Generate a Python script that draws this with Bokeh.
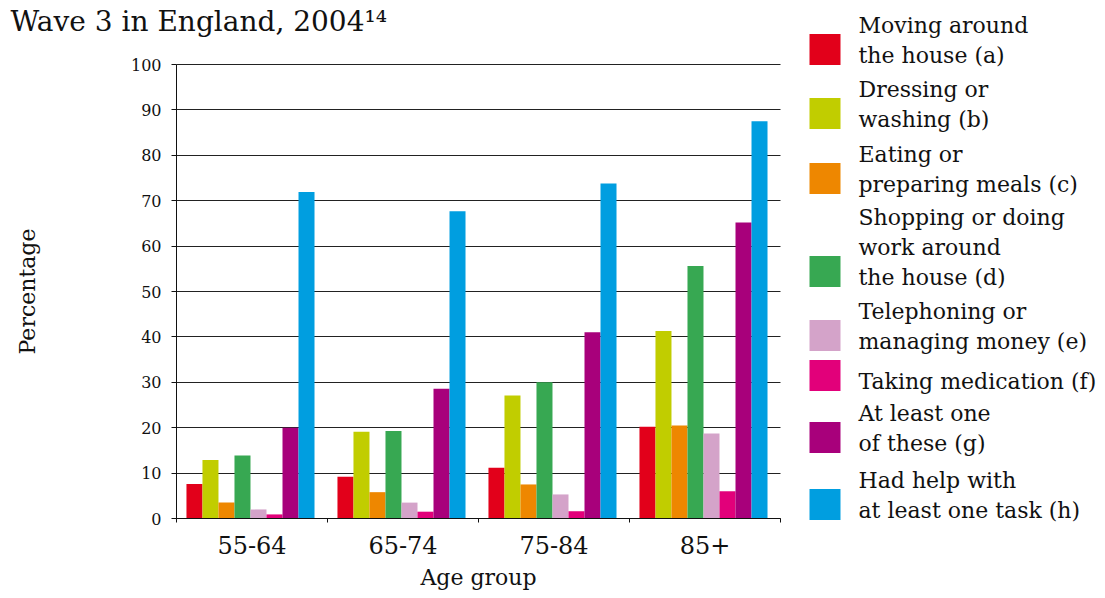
from bokeh.plotting import figure
from bokeh.models import ColumnDataSource, Range1d, FixedTicker
from bokeh.transform import dodge
from bokeh.embed import file_html
from bokeh.resources import INLINE
from bokeh.core.properties import value

# ---------------- data ----------------
groups = ["55-64", "65-74", "75-84", "85+"]
series_names = [
    "Moving around\nthe house (a)",
    "Dressing or\nwashing (b)",
    "Eating or\npreparing meals (c)",
    "Shopping or doing\nwork around\nthe house (d)",
    "Telephoning or\nmanaging money (e)",
    "Taking medication (f)",
    "At least one\nof these (g)",
    "Had help with\nat least one task (h)",
]
moving = [7.6, 9.2, 11.2, 20.2]
dressing = [12.9, 19.1, 27.1, 41.3]
eating = [3.5, 5.8, 7.5, 20.5]
shopping = [13.9, 19.3, 30.0, 55.6]
telephoning = [2.0, 3.5, 5.3, 18.7]
medication = [0.9, 1.5, 1.6, 6.0]
at_least_one = [20.0, 28.6, 41.0, 65.2]
had_help = [71.9, 67.7, 73.8, 87.5]
colors = ["#E2001A", "#C1CD00", "#EE8700", "#37A852",
          "#D4A3C9", "#E2007A", "#A8007B", "#009EE0"]
y_ticks = list(range(0, 101, 10))

title_text = "Wave 3 in England, 2004\u00b9\u2074"
x_label = "Age group"
y_label = "Percentage"

series_values = [moving, dressing, eating, shopping, telephoning,
                 medication, at_least_one, had_help]
keys = ["s%d" % i for i in range(len(series_values))]
centers = [i + 0.5 for i in range(len(groups))]
data = {"pos": centers, "group": groups}
for k, v in zip(keys, series_values):
    data[k] = v
src = ColumnDataSource(data)

SERIF = "DejaVu Serif"
INK = "#111111"

# ---------------- layout (canvas pixels) ----------------
W, H = 1100, 594
X0, X4 = 176, 780     # canvas x of the bar area's left / right edge
Y0, Y100 = 518, 64    # canvas y of the 0 % and 100 % lines
ng = len(groups)
px_per_x = (X4 - X0) / ng
px_per_y = (Y0 - Y100) / 100.0

p = figure(width=W, height=H,
           x_range=Range1d(-X0 / px_per_x, (W - X0) / px_per_x),
           y_range=Range1d(-(H - Y0) / px_per_y, Y0 / px_per_y),
           output_backend="svg", toolbar_location=None,
           min_border=0)
p.outline_line_color = None
p.background_fill_color = "white"
p.border_fill_color = "white"
p.title.visible = False

# pixel-space ranges for title and legend
p.extra_x_ranges = {"px": Range1d(0, W)}
p.extra_y_ranges = {"px": Range1d(H, 0)}

# grid lines limited to the bar area
gp = p.ygrid[0]
gp.ticker = FixedTicker(ticks=y_ticks)
gp.grid_line_color = "#222222"
gp.grid_line_width = 1
if "cross_bounds" in gp.properties():
    gp.cross_bounds = (0, ng)
else:
    gp.visible = False
    p.segment(x0=[0] * len(y_ticks), x1=[ng] * len(y_ticks),
              y0=y_ticks, y1=y_ticks, line_color="#222222", line_width=1)
p.xgrid.visible = False

# bars
n = len(series_values)
w = 0.106
for i, (k, c) in enumerate(zip(keys, colors)):
    p.vbar(x=dodge("pos", (i - (n - 1) / 2) * w - 0.01),
           top=k, width=w, source=src, fill_color=c, line_color=None)

# y axis (fixed at x = 0)
yax = p.yaxis[0]
yax.fixed_location = 0
yax.bounds = (0, 100)
yax.ticker = FixedTicker(ticks=y_ticks)
yax.major_tick_out = 5
yax.major_tick_in = 0
yax.minor_tick_line_color = None
yax.axis_line_color = INK
yax.major_tick_line_color = INK
yax.major_label_text_font = SERIF
yax.major_label_text_font_size = "16px"
yax.major_label_text_color = INK
yax.major_label_standoff = 10
yax.axis_label = y_label
yax.axis_label_text_font = SERIF
yax.axis_label_text_font_size = "22px"
yax.axis_label_text_font_style = "normal"
yax.axis_label_text_color = INK
yax.axis_label_standoff = 88

# x axis (fixed at y = 0): labels at group centres, ticks at group boundaries
xax = p.xaxis[0]
xax.fixed_location = 0
xax.bounds = (0, ng)
xax.ticker = FixedTicker(ticks=centers, minor_ticks=list(range(ng + 1)))
xax.major_label_overrides = {c: g for c, g in zip(centers, groups)}
xax.axis_line_color = INK
xax.major_tick_line_color = None
xax.minor_tick_line_color = INK
xax.minor_tick_out = 4
xax.minor_tick_in = 0
xax.major_tick_out = 4
xax.major_tick_in = 0
xax.major_label_text_font = SERIF
xax.major_label_text_font_size = "24px"
xax.major_label_text_color = INK
xax.major_label_standoff = 13

# x axis title, centred under the groups
p.text(x=[ng / 2], y=[577], text=[x_label], y_range_name="px",
       text_baseline="middle", text_align="center",
       text_font=value(SERIF), text_font_size="22px", text_color=INK)

# ---------------- title ----------------
p.text(x=[10], y=[21], text=[title_text], x_range_name="px", y_range_name="px",
       text_baseline="middle", text_align="left",
       text_font=value(SERIF), text_font_size="28px", text_color=INK)

# ---------------- legend ----------------
first_line_y = [25, 89, 154, 217, 311, 381, 413, 480]
line_step = 30
sq_left, sq_size, text_x = 809, 31, 858
tx, ty, tt = [], [], []
ql, qr, qt, qb = [], [], [], []
for name, y0 in zip(series_names, first_line_y):
    lines = name.split("\n")
    for j, ln in enumerate(lines):
        tx.append(text_x)
        ty.append(y0 + j * line_step)
        tt.append(ln)
    cy = y0 + (len(lines) - 1) * line_step - 6
    ql.append(sq_left); qr.append(sq_left + sq_size)
    qt.append(cy - sq_size / 2); qb.append(cy + sq_size / 2)

p.quad(left=ql, right=qr, top=qt, bottom=qb, x_range_name="px", y_range_name="px",
       fill_color=colors, line_color=None)
p.text(x=tx, y=ty, text=tt, x_range_name="px", y_range_name="px",
       text_baseline="middle", text_align="left",
       text_font=value(SERIF), text_font_size="22px", text_color=INK)

open("out.html", "w").write(file_html(p, INLINE, title="Wave 3 in England, 2004"))
